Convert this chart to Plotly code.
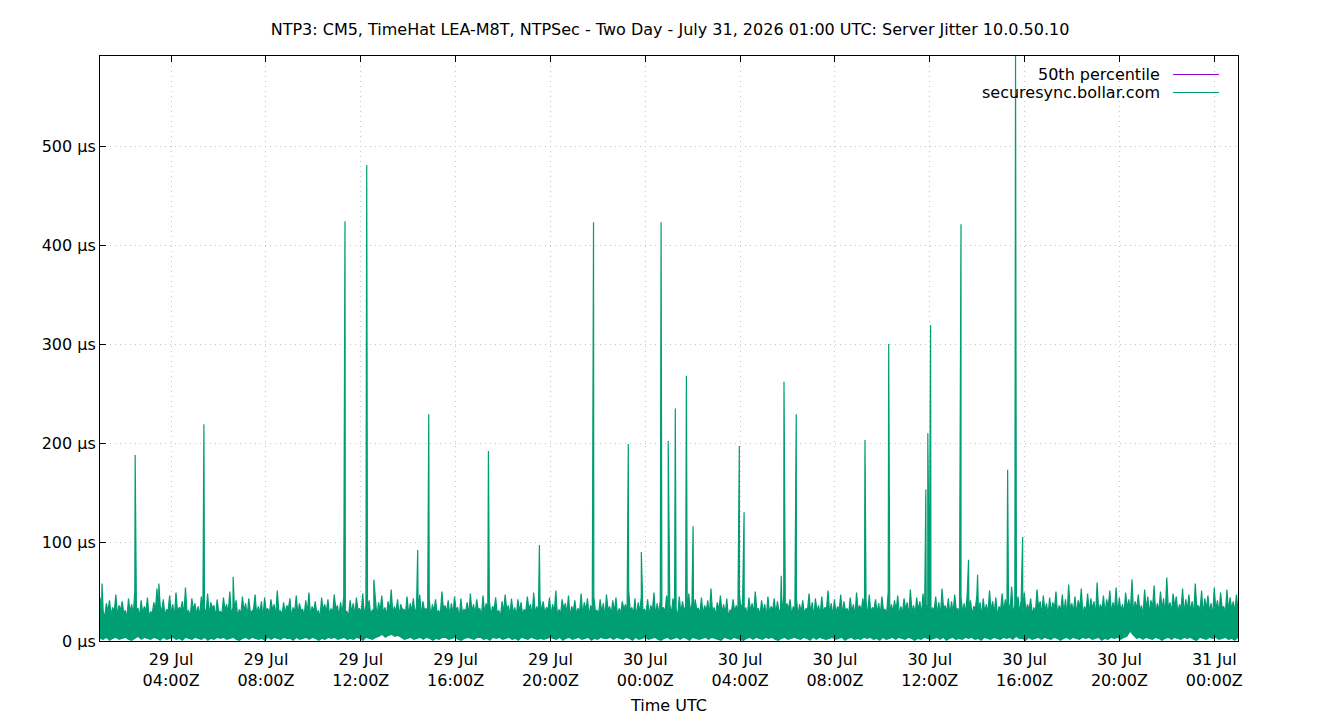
import plotly.graph_objects as go
from datetime import datetime

title_text = "NTP3: CM5, TimeHat LEA-M8T, NTPSec - Two Day - July 31, 2026 01:00 UTC: Server Jitter 10.0.50.10"
series_names = ["50th percentile", "securesync.bollar.com"]
start_time = "2026-07-29 01:00"
end_time = "2026-07-31 01:00"

# 50th percentile (hidden under the jitter trace)
p50_times = ["2026-07-29 01:00", "2026-07-31 01:00"]
p50_values = [17, 17]

# jitter noise: local peaks (µs)
noise_high = [
    44, 30, 38, 41, 34, 47, 36, 40, 31, 43, 37, 51, 33, 41, 35, 44, 30, 39, 53, 36,
    42, 32, 46, 37, 49, 34, 40, 54, 31, 43, 38, 35, 45, 33, 48, 39, 36, 42, 30, 44,
    37, 50, 34, 41, 32, 45, 38, 43, 30, 47, 35, 40, 44, 33, 42, 37, 51, 31, 39, 36,
    43, 34, 46, 38, 32, 41, 49, 35, 40, 31, 44, 37, 42, 33, 47, 36, 39, 45, 30, 41,
    38, 44, 33, 48, 36, 41, 31, 43, 39, 46, 34, 40, 52, 35, 42, 37, 32, 45, 38, 43,
    35, 47, 40, 33, 44, 37, 42, 31, 50, 36, 41, 38, 45, 34, 43, 32, 39, 48, 37, 42,
    33, 46, 38, 41, 35, 44, 31, 40, 47, 36, 43, 34, 42, 39, 32, 45, 37, 49, 35, 41,
    40, 34, 44, 37, 51, 32, 42, 38, 46, 35, 41, 33, 48, 39, 43, 36, 45, 31, 42, 38,
    47, 35, 41, 44, 33, 40, 37, 52, 34, 43, 39, 45, 32, 42, 36, 49, 38, 41, 34, 46,
    37, 43, 32, 45, 40, 35, 48, 38, 42, 33, 44, 36, 41, 53, 34, 39, 46, 37, 43, 31,
    42, 36, 47, 39, 34, 44, 38, 50, 33, 41, 37, 45, 35, 43, 40, 32, 46, 38, 42, 35,
    44, 37, 41, 33, 48, 39, 43, 36, 45, 34, 51, 38, 42, 35, 47, 40, 33, 44, 37, 49,
    36, 43, 40, 47, 34, 42, 38, 45, 32, 50, 37, 41, 46, 35, 43, 39, 52, 36, 44, 40,
    48, 37, 42, 34, 45, 39, 53, 36, 43, 40, 47, 33, 44, 38, 50, 41, 35, 46, 39, 43,
    37, 51, 40, 44, 35, 48, 42, 38, 55, 36, 45, 41, 49, 37, 43, 34, 52, 40, 46, 38,
    44, 39, 50, 36, 47, 42, 57, 38, 45, 41, 53, 35, 48, 43, 40, 59, 37, 46, 42, 51,
    39, 54, 44, 37, 49, 42, 62, 40, 47, 36, 52, 45, 41, 56, 38, 50, 43, 64, 39, 48,
    45, 37, 53, 42, 47, 40, 58, 36, 51, 43, 46, 38, 54, 41, 49, 35, 52, 44, 40, 47,
]

# jitter noise: local troughs between the peaks (µs)
noise_trough = [
    27, 24, 30, 26, 29, 25, 31, 28, 23, 29, 26, 32, 25, 28, 30, 24, 27, 31, 26, 29,
    25, 30, 27, 23, 29, 32, 26, 28, 24, 31, 27, 25, 30, 28, 26, 33, 24, 29, 27, 31,
    28, 26, 31, 24, 27, 30, 25, 29, 32, 26, 28, 23, 30, 27, 31, 25, 29, 26, 28, 32,
    24, 29, 27, 31, 26, 28, 25, 30, 27, 23, 31, 29, 26, 28, 32, 25, 27, 30, 24, 29,
    26, 31, 28, 25, 29, 27, 32, 24, 30, 28, 26, 31, 27, 29, 25, 32, 28, 26, 30, 27,
    29, 25, 31, 27, 24, 30, 28, 26, 32, 29, 25, 27, 31, 23, 28, 30, 26, 29, 27, 31,
    25, 28, 30, 26, 32, 27, 24, 29, 31, 26, 28, 25, 30, 27, 29, 32, 25, 28, 26, 30,
    28, 31, 26, 29, 25, 27, 32, 28, 24, 30, 27, 29, 26, 31, 25, 28, 30, 27, 29, 24,
    31, 27, 29, 25, 28, 32, 26, 30, 27, 24, 29, 31, 28, 26, 30, 25, 27, 32, 29, 26,
    27, 30, 25, 28, 31, 26, 29, 24, 32, 28, 27, 30, 25, 29, 26, 31, 28, 27, 24, 30,
    29, 26, 32, 27, 25, 30, 28, 31, 26, 29, 24, 28, 31, 27, 30, 25, 29, 32, 26, 28,
    25, 29, 27, 31, 28, 24, 30, 26, 29, 32, 27, 25, 28, 31, 26, 30, 27, 29, 25, 31,
    30, 27, 25, 29, 32, 28, 26, 31, 27, 24, 29, 30, 26, 28, 32, 25, 29, 27, 31, 26,
    28, 31, 26, 30, 27, 25, 32, 29, 26, 28, 31, 24, 29, 27, 30, 26, 32, 28, 25, 29,
    27, 30, 28, 25, 31, 29, 26, 32, 27, 30, 28, 25, 29, 31, 26, 28, 33, 27, 30, 26,
    29, 32, 26, 30, 28, 25, 31, 29, 27, 33, 26, 30, 28, 32, 25, 29, 31, 27, 34, 28,
    31, 26, 30, 28, 33, 29, 27, 32, 30, 25, 31, 28, 33, 27, 30, 32, 26, 31, 29, 34,
    28, 32, 27, 31, 29, 26, 33, 30, 27, 32, 29, 25, 31, 28, 33, 27, 30, 32, 29, 31,
]

# jitter noise: lowest samples (µs)
noise_floor = [
    2, 1, 3, 0, 2, 3, 1, 2, 3, 1, 0, 2, 4, 1, 3, 2, 1, 3, 2, 0,
    3, 1, 2, 3, 1, 2, 0, 3, 2, 1, 3, 2, 1, 3, 0, 2, 1, 3, 2, 3,
    1, 2, 3, 1, 0, 2, 3, 1, 3, 2, 1, 2, 0, 3, 1, 3, 2, 1, 3, 2,
    2, 0, 3, 1, 2, 3, 1, 3, 2, 0, 2, 1, 3, 2, 3, 1, 2, 3, 1, 2,
    1, 3, 2, 0, 3, 2, 1, 3, 4, 6, 3, 5, 6, 4, 5, 3, 1, 2, 3, 1,
    2, 3, 1, 3, 2, 0, 2, 1, 3, 3, 1, 2, 3, 1, 0, 2, 3, 2, 1, 3,
    3, 1, 2, 0, 3, 2, 3, 1, 2, 3, 1, 2, 0, 3, 2, 1, 3, 2, 1, 2,
    1, 2, 3, 2, 1, 3, 0, 2, 3, 1, 2, 3, 1, 2, 3, 0, 2, 1, 3, 2,
    2, 3, 1, 3, 2, 1, 3, 2, 0, 3, 1, 2, 3, 1, 2, 3, 1, 0, 2, 3,
    1, 2, 3, 1, 3, 2, 0, 3, 2, 1, 2, 3, 1, 3, 2, 1, 0, 3, 2, 1,
    3, 2, 1, 0, 2, 3, 1, 3, 2, 1, 3, 2, 3, 1, 0, 2, 3, 1, 2, 3,
    2, 1, 3, 2, 0, 3, 1, 3, 2, 1, 2, 3, 1, 2, 3, 0, 2, 3, 1, 2,
    1, 3, 2, 3, 1, 2, 0, 3, 1, 2, 3, 1, 3, 2, 1, 3, 2, 0, 2, 1,
    3, 2, 1, 2, 3, 1, 3, 0, 2, 3, 1, 2, 1, 3, 2, 3, 1, 2, 0, 3,
    2, 1, 3, 2, 1, 3, 2, 3, 1, 4, 2, 2, 0, 3, 1, 2, 3, 1, 3, 2,
    1, 3, 2, 0, 2, 3, 1, 3, 2, 1, 3, 2, 3, 1, 2, 3, 0, 2, 1, 3,
    2, 3, 1, 3, 4, 9, 5, 2, 3, 1, 3, 2, 1, 3, 2, 0, 2, 3, 1, 3,
    2, 1, 3, 2, 3, 1, 0, 3, 2, 1, 3, 2, 3, 1, 2, 3, 1, 2, 0, 3,
]

# isolated jitter spikes
spike_times = [
    "2026-07-29 01:05", "2026-07-29 02:29", "2026-07-29 03:29", "2026-07-29 05:23",
    "2026-07-29 06:37", "2026-07-29 11:20", "2026-07-29 12:15", "2026-07-29 12:33",
    "2026-07-29 14:24", "2026-07-29 14:52", "2026-07-29 17:23", "2026-07-29 19:32",
    "2026-07-29 21:49", "2026-07-29 23:17", "2026-07-29 23:50", "2026-07-30 00:40",
    "2026-07-30 00:58", "2026-07-30 01:16", "2026-07-30 01:44", "2026-07-30 02:01",
    "2026-07-30 03:58", "2026-07-30 04:10", "2026-07-30 05:44", "2026-07-30 05:51",
    "2026-07-30 06:22", "2026-07-30 09:16", "2026-07-30 10:16", "2026-07-30 11:50",
    "2026-07-30 11:55", "2026-07-30 12:02", "2026-07-30 13:19", "2026-07-30 13:38",
    "2026-07-30 14:01", "2026-07-30 15:17", "2026-07-30 15:37", "2026-07-30 15:55",
]
spike_values = [
    58, 188, 58, 219,
    65, 424, 481, 62,
    92, 229, 192, 97,
    423, 199, 90, 423,
    202, 235, 268, 116,
    197, 130, 66, 262,
    229, 203, 300, 153,
    210, 319, 421, 82,
    67, 173, 591, 105,
]

y_tick_vals = [0, 100, 200, 300, 400, 500]
y_tick_text = ["0 µs", "100 µs", "200 µs", "300 µs", "400 µs", "500 µs"]

# ---- assemble series
fmt = "%Y-%m-%d %H:%M"
t0 = datetime.strptime(start_time, fmt)
t1 = datetime.strptime(end_time, fmt)
n = len(noise_high)
step = (t1 - t0) / (2 * n - 1)
pts = []
for i in range(n):
    pts.append((t0 + step * (2 * i), noise_high[i]))
    pts.append((t0 + step * (2 * i + 1), noise_trough[i]))
for t, v in zip(spike_times, spike_values):
    pts.append((datetime.strptime(t, fmt), v))
pts.sort(key=lambda p: p[0])
jit_x = [p[0] for p in pts]
jit_y = [p[1] for p in pts]

floor_step = (t1 - t0) / (n - 1)
floor_x = [t0 + floor_step * i for i in range(n)]

green = "#009e73"
purple = "#9400d3"
font_family = "DejaVu Sans"

fig = go.Figure()
fig.add_trace(go.Scatter(x=p50_times, y=p50_values, mode="lines",
                         line=dict(color=purple, width=1), name=series_names[0],
                         showlegend=False))
fig.add_trace(go.Scatter(x=floor_x, y=noise_floor, mode="lines",
                         line=dict(color=green, width=0, simplify=False),
                         showlegend=False, hoverinfo="skip"))
fig.add_trace(go.Scatter(x=jit_x, y=jit_y, mode="lines",
                         line=dict(color=green, width=1.2, simplify=False),
                         fill="tonexty", fillcolor=green,
                         name=series_names[1], showlegend=False))

# gnuplot-style legend (text right-aligned, sample line to the right)
W, H = 1340, 720
L, R, T, B = 100, 102, 56, 79
pw, ph = W - L - R, H - T - B
def px(x):
    return (x - L) / pw
def py(y):
    return 1 - (y - T) / ph

legend_rows = [(74, purple), (92, green)]
for (yy, col), name in zip(legend_rows, series_names):
    fig.add_annotation(x=px(1162), y=py(yy), xref="paper", yref="paper",
                       text=name, showarrow=False, xanchor="right", yanchor="middle",
                       font=dict(family=font_family, size=16, color="black"))
    fig.add_shape(type="line", xref="paper", yref="paper",
                  x0=px(1173), x1=px(1219), y0=py(yy + 0.5), y1=py(yy + 0.5),
                  line=dict(color=col, width=1))

axis_common = dict(showline=True, linecolor="black", linewidth=1,
                   ticks="inside", ticklen=6, tickcolor="black",
                   showgrid=True, gridcolor="#c4c4c4", griddash="1px,4px", gridwidth=1,
                   zeroline=False, automargin=False, layer="above traces",
                   tickfont=dict(family=font_family, size=16, color="black"))

fig.update_layout(
    width=W, height=H,
    margin=dict(l=L, r=R, t=T, b=B),
    paper_bgcolor="white", plot_bgcolor="white",
    title=dict(text=title_text, x=0.5, xanchor="center", y=1 - 29 / H,
               yanchor="middle", yref="container",
               font=dict(family=font_family, size=16, color="black")),
    xaxis=dict(range=[start_time, end_time], type="date", mirror="ticks",
               tick0="2026-07-29 00:00", dtick=4 * 3600 * 1000,
               tickformat="%d %b<br>%H:%MZ", ticklabelstandoff=4,
               title=dict(text="Time UTC", standoff=10,
                          font=dict(family=font_family, size=16, color="black")),
               **axis_common),
    yaxis=dict(range=[0, 591], tickvals=y_tick_vals, ticktext=y_tick_text,
               mirror=True, **axis_common),
    showlegend=False,
)

fig.write_html("out.html")
